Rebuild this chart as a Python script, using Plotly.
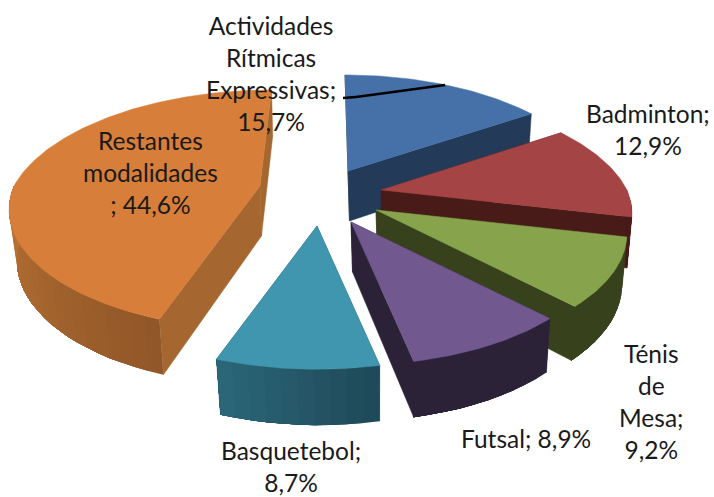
import math
import plotly.graph_objects as go

categories = ["Actividades Rítmicas Expressivas", "Badminton", "Ténis de Mesa", "Futsal", "Basquetebol", "Restantes modalidades"]
values = [15.7, 12.9, 9.2, 8.9, 8.7, 44.6]
top_colors = ["#4570A8", "#A54444", "#87A44C", "#71588F", "#4096AE", "#D67E3A"]
cut_colors = ["#233A59", "#481B18", "#37421D", "#2C2238", "#25596B", "#A5672F"]
arc_colors = [("#233A59", "#233A59"), ("#481B18", "#481B18"), ("#37421D", "#37421D"),
              ("#2C2238", "#2C2238"), ("#1F4A59", "#2B6578"), ("#925729", "#B97433")]
# per-slice explosion: where each wedge tip sits in the picture
tips = [(348, 171), (381, 190), (376, 210), (351, 222), (317, 226), (260, 186)]
labels = [
    ("Actividades<br>Rítmicas<br>Expressivas;<br>15,7%", 271, 73),
    ("Badminton;<br>12,9%", 648, 129),
    ("Ténis<br>de<br>Mesa;<br>9,2%", 651, 401),
    ("Futsal; 8,9%", 526, 438),
    ("Basquetebol;<br>8,7%", 291, 466),
    ("Restantes<br>modalidades<br>; 44,6%", 150, 172),
]

RX, RY, PERSP, DEPTH = 246, 115, 0.197, 50
VANISH_X = 330
total = sum(values)


def point(tip, deg, lower=False):
    t = math.radians(deg)
    s = 1 / (1 + PERSP * math.cos(t))
    x, y = RX * math.sin(t) * s, -RY * math.cos(t) * s
    x += (VANISH_X - tip[0]) * max(0, 1 - s)  # far points lean towards the middle of the pie
    if lower:
        return tip[0] + 1.5 + x * 0.975, tip[1] + y * 0.99 + DEPTH * (0.4 + 0.6 * s)
    return tip[0] + x, tip[1] + y


def lower_tip(tip):
    return tip[0] + 1.5, tip[1] + DEPTH


def mix(c1, c2, f):
    a = [int(c1[i:i + 2], 16) for i in (1, 3, 5)]
    b = [int(c2[i:i + 2], 16) for i in (1, 3, 5)]
    return "#%02x%02x%02x" % tuple(round(p + (q - p) * f) for p, q in zip(a, b))


fig = go.Figure()


def poly(pts, color, edge=0.5):
    xs = [p[0] for p in pts] + [pts[0][0]]
    ys = [p[1] for p in pts] + [pts[0][1]]
    fig.add_trace(go.Scatter(x=xs, y=ys, mode="lines", fill="toself", fillcolor=color,
                             line=dict(color=color, width=edge), hoverinfo="skip", showlegend=False))


starts, acc = [], 0.0
for v in values:
    starts.append(acc / total * 360)
    acc += v

for i in [5, 0, 1, 2, 4, 3]:
    tip = tips[i]
    a0 = starts[i]
    a1 = a0 + values[i] / total * 360
    lt = lower_tip(tip)
    for ang in (a0, a1):
        poly([tip, point(tip, ang), point(tip, ang, True), lt], cut_colors[i])
    w0, w1 = max(a0, 90), min(a1, 270)
    if w1 > w0:
        n = max(2, int((w1 - w0) / 3))
        for k in range(n):
            p = w0 + (w1 - w0) * k / n
            # each band runs on to the wall's far end, the next band paints over it: no seams
            m = max(2, int((w1 - p) / 3))
            upper = [point(tip, p + (w1 - p) * j / m) for j in range(m + 1)]
            lower = [point(tip, p + (w1 - p) * j / m, True) for j in range(m, -1, -1)]
            poly(upper + lower, mix(arc_colors[i][0], arc_colors[i][1], k / max(1, n - 1)), edge=0)
    n = max(8, int(a1 - a0))
    top = [tip] + [point(tip, a0 + (a1 - a0) * k / n) for k in range(n + 1)]
    poly(top, top_colors[i])

for text, x, y in labels:
    fig.add_annotation(x=x, y=y, text=text, showarrow=False, xanchor="center", yanchor="middle",
                       align="center", font=dict(family="Lato", size=24.5, color="#1a1a1a"))

fig.add_shape(type="line", x0=343, y0=98, x1=356, y1=97, line=dict(color="black", width=2.5))
fig.add_shape(type="line", x0=356, y0=97, x1=445, y1=85, line=dict(color="black", width=2.5))

fig.update_layout(width=714, height=497, autosize=False, margin=dict(l=0, r=0, t=0, b=0),
                  paper_bgcolor="white", plot_bgcolor="white", showlegend=False,
                  xaxis=dict(range=[0, 714], visible=False, fixedrange=True),
                  yaxis=dict(range=[497, 0], visible=False, fixedrange=True))
fig.write_html("out.html", config={"displayModeBar": False},
               post_script="document.body.style.margin='0';")
